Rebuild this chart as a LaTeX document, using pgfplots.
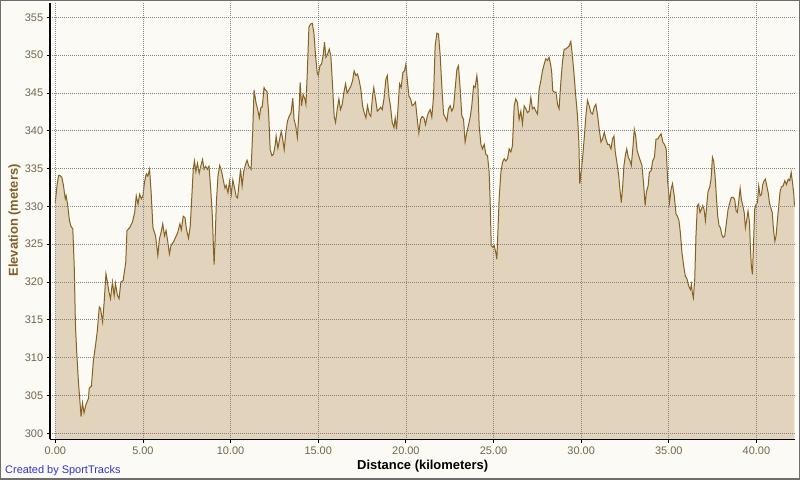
\documentclass[border=0pt]{standalone}
\usepackage{fontspec}
\setmainfont{Liberation Sans}
\usepackage{pgfplots}
\usepackage{pgfplotstable}
\pgfplotsset{compat=1.18}
\definecolor{bgc}{RGB}{252,250,245}
\definecolor{fillc}{RGB}{226,212,188}
\definecolor{linec}{RGB}{133,98,34}
\definecolor{gridc}{RGB}{135,130,125}
\definecolor{tickc}{RGB}{115,100,80}
\definecolor{ylabc}{RGB}{128,96,40}
\definecolor{bluec}{RGB}{51,51,204}
\definecolor{bordc}{RGB}{110,110,110}

\pgfplotstableread{
km elev
0.00 330.5
0.10 332.8
0.19 334.1
0.25 334.1
0.38 333.8
0.47 332.7
0.57 331.0
0.62 331.4
0.70 330.3
0.81 328.1
0.89 327.4
1.00 327.0
1.08 322.2
1.15 314.3
1.23 310.4
1.32 306.8
1.42 303.8
1.47 302.2
1.55 304.0
1.64 302.7
1.75 303.8
1.89 304.6
1.94 306.0
2.06 306.2
2.17 309.5
2.30 311.7
2.40 313.6
2.51 316.7
2.58 316.5
2.70 314.7
2.79 317.4
2.89 321.1
2.96 320.2
3.06 318.7
3.15 317.8
3.26 320.0
3.36 318.2
3.43 319.8
3.55 318.2
3.64 317.8
3.74 320.0
3.87 320.2
4.02 322.6
4.09 326.8
4.25 327.2
4.40 327.9
4.53 329.2
4.62 331.4
4.72 330.3
4.81 331.6
4.91 331.0
5.00 331.4
5.09 333.2
5.19 334.3
5.28 334.0
5.38 334.9
5.47 331.8
5.57 327.2
5.72 326.1
5.85 323.5
5.94 325.7
6.04 326.6
6.13 327.7
6.23 326.1
6.32 326.8
6.42 325.3
6.51 323.7
6.60 324.8
6.74 325.3
6.98 326.5
7.11 327.7
7.19 326.9
7.30 328.7
7.40 328.5
7.49 326.9
7.60 325.8
7.70 327.4
7.79 331.3
7.87 334.9
7.94 336.0
8.02 334.6
8.11 335.7
8.21 334.4
8.30 335.3
8.40 336.2
8.49 334.9
8.58 335.3
8.68 334.9
8.77 335.3
8.87 332.2
8.96 328.7
9.06 322.3
9.11 325.2
9.19 330.5
9.28 334.0
9.38 335.4
9.49 334.6
9.58 333.5
9.68 332.4
9.75 332.8
9.85 331.8
9.94 333.3
10.04 331.6
10.13 333.5
10.23 332.4
10.32 331.3
10.40 331.1
10.47 332.7
10.57 334.9
10.66 332.7
10.75 334.6
10.85 335.5
10.94 336.1
11.04 335.3
11.17 334.9
11.26 339.7
11.34 345.4
11.45 343.7
11.55 342.8
11.64 341.7
11.72 343.0
11.81 343.2
11.91 345.7
11.98 345.4
12.08 345.2
12.17 342.4
12.26 337.5
12.36 336.7
12.45 336.9
12.55 338.2
12.60 339.3
12.70 337.7
12.79 338.8
12.89 339.9
12.96 339.1
13.06 337.5
13.15 339.7
13.25 341.3
13.34 341.9
13.45 342.4
13.55 344.3
13.62 341.5
13.72 340.6
13.81 339.1
13.91 342.8
13.97 346.4
14.05 343.3
14.14 344.8
14.24 344.2
14.30 343.5
14.37 347.3
14.47 353.7
14.56 354.1
14.66 354.2
14.75 353.0
14.85 349.9
14.94 347.7
15.00 347.3
15.10 348.6
15.19 348.8
15.29 350.1
15.36 351.7
15.44 349.7
15.53 350.1
15.63 350.8
15.72 349.9
15.82 345.9
15.91 341.9
15.99 341.1
16.08 342.8
16.18 344.2
16.27 342.8
16.37 343.5
16.46 345.0
16.56 346.2
16.65 345.0
16.77 345.5
16.86 345.9
16.96 346.6
17.05 347.9
17.15 347.3
17.24 347.5
17.34 346.6
17.43 345.5
17.53 343.3
17.62 342.4
17.72 341.7
17.81 343.3
17.91 342.2
18.00 341.9
18.10 344.6
18.17 345.7
18.27 344.2
18.37 342.6
18.46 342.8
18.56 343.1
18.65 342.8
18.75 344.2
18.86 346.8
18.94 347.3
19.03 344.6
19.13 343.1
19.22 341.1
19.32 340.4
19.39 341.7
19.47 340.2
19.56 343.3
19.64 346.2
19.73 345.7
19.83 347.7
19.92 347.9
20.00 348.8
20.08 346.8
20.17 344.6
20.27 344.2
20.36 343.3
20.46 343.5
20.55 343.8
20.65 341.5
20.74 339.7
20.84 341.5
20.93 341.9
21.03 341.7
21.12 340.8
21.22 341.9
21.29 342.4
21.39 342.8
21.48 341.8
21.58 344.6
21.67 351.2
21.77 352.9
21.86 352.8
21.96 349.9
22.05 345.9
22.15 342.2
22.24 341.8
22.34 341.3
22.43 342.9
22.53 343.3
22.62 342.6
22.72 343.1
22.81 345.5
22.91 348.1
23.00 348.6
23.10 345.5
23.19 342.0
23.29 341.5
23.38 338.5
23.48 339.8
23.57 340.7
23.67 341.8
23.76 343.3
23.86 345.9
23.95 345.7
24.05 347.3
24.11 345.9
24.18 340.7
24.28 338.2
24.37 337.6
24.47 338.2
24.56 336.9
24.66 336.7
24.75 334.5
24.81 330.5
24.87 324.8
24.96 324.6
25.04 324.8
25.13 323.9
25.19 323.0
25.25 326.6
25.32 331.0
25.42 334.5
25.51 335.8
25.61 336.3
25.70 336.0
25.80 336.3
25.89 337.6
25.99 337.2
26.08 338.0
26.18 343.3
26.27 344.2
26.37 343.7
26.46 341.5
26.56 342.6
26.65 340.9
26.75 343.3
26.84 342.9
26.94 342.4
27.03 342.6
27.13 344.4
27.22 342.9
27.32 343.1
27.41 342.6
27.51 342.2
27.60 345.5
27.70 346.6
27.79 347.9
27.89 348.8
27.98 349.5
28.08 349.3
28.17 349.7
28.27 348.6
28.32 347.7
28.38 345.3
28.47 345.1
28.57 345.1
28.65 343.5
28.74 342.9
28.84 346.4
28.93 349.0
29.03 350.8
29.12 350.8
29.22 351.0
29.31 351.2
29.41 351.8
29.50 349.9
29.60 347.3
29.69 344.6
29.79 342.0
29.87 338.5
29.92 333.0
30.00 334.5
30.08 336.3
30.17 338.9
30.27 342.0
30.36 344.0
30.46 343.3
30.55 342.4
30.65 342.2
30.74 343.1
30.84 343.5
30.94 342.0
31.03 340.2
31.13 338.5
31.22 338.9
31.32 339.8
31.41 338.9
31.51 338.2
31.60 338.2
31.70 337.6
31.79 338.9
31.87 339.3
31.95 337.1
32.04 335.8
32.14 334.1
32.21 332.3
32.29 330.5
32.37 332.7
32.44 335.4
32.52 336.7
32.60 337.6
32.69 336.5
32.79 336.0
32.86 335.4
32.96 338.0
33.03 340.2
33.11 339.3
33.19 337.4
33.28 336.7
33.38 336.0
33.47 335.4
33.57 332.7
33.65 330.1
33.72 331.9
33.82 332.7
33.89 334.5
33.99 334.7
34.08 336.0
34.18 336.5
34.27 338.9
34.37 338.9
34.47 339.3
34.56 339.6
34.66 338.5
34.75 338.2
34.85 337.6
34.94 333.2
35.04 330.5
35.13 332.3
35.21 333.0
35.31 331.4
35.41 329.0
35.49 328.7
35.58 328.1
35.66 326.5
35.75 323.9
35.85 322.1
35.94 320.8
36.04 320.4
36.13 319.5
36.23 319.0
36.29 319.7
36.34 318.6
36.40 317.9
36.48 320.4
36.55 326.1
36.63 330.1
36.70 330.3
36.78 329.2
36.86 329.6
36.93 330.1
37.01 329.6
37.09 328.1
37.16 330.1
37.24 332.0
37.33 332.5
37.41 333.6
37.49 336.5
37.56 336.0
37.64 334.0
37.71 331.4
37.79 328.7
37.87 327.4
37.94 327.2
38.02 326.3
38.10 325.9
38.19 326.1
38.29 327.9
38.38 329.6
38.48 330.5
38.57 331.2
38.67 331.2
38.76 330.9
38.84 329.4
38.91 329.2
38.99 330.7
39.07 332.4
39.14 330.9
39.22 330.1
39.30 329.2
39.37 327.2
39.45 328.3
39.52 329.4
39.60 327.9
39.66 324.3
39.71 322.1
39.77 321.0
39.83 324.8
39.90 329.6
39.98 330.3
40.06 330.5
40.13 332.7
40.21 331.4
40.29 331.6
40.36 332.9
40.44 333.4
40.51 333.6
40.59 332.7
40.67 331.8
40.74 330.5
40.82 329.8
40.90 329.2
40.97 327.0
41.05 325.4
41.12 326.1
41.20 328.3
41.28 330.3
41.35 332.0
41.43 332.6
41.52 332.7
41.62 333.4
41.71 332.9
41.81 333.6
41.90 333.4
41.98 334.5
42.06 333.1
42.13 331.6
42.17 330.1
}\profile

\begin{document}
\begin{tikzpicture}[x=1bp,y=1bp]
\useasboundingbox (0,0) rectangle (800,480);
\fill[bgc] (0,0) rectangle (800,480);
\begin{axis}[
  at={(50.2bp,40.5bp)}, anchor=south west,
  scale only axis, width=744.8bp, height=436.5bp,
  xmin=-0.29, xmax=42.2, ymin=299.18, ymax=356.89,
  axis lines*=left,
  axis line style={black, line width=1.7bp},
  tick style={black, line width=0.8bp},
  tick align=outside, major tick length=3.5bp,
  xtick={0,5,...,40}, ytick={300,305,...,355},
  grid=major,
  major grid style={gridc, line width=0.7bp, dash pattern=on 0.9bp off 1.1bp},
  axis on top,
  /pgf/number format/assume math mode=true,
  tick label style={font=\fontsize{11}{13}\selectfont, text=tickc},
  xticklabel style={/pgf/number format/.cd, fixed, fixed zerofill, precision=2},
  yticklabel style={/pgf/number format/.cd, fixed, precision=0},
]
\addplot[fill=fillc, draw=none] table[x=km,y=elev]{\profile} \closedcycle;
\addplot[linec, line width=1bp] table[x=km,y=elev]{\profile};
\end{axis}
\node[font=\fontsize{13}{15}\selectfont\bfseries, anchor=base] at (422.7,10) {Distance (kilometers)};
\node[font=\fontsize{13}{15}\selectfont\bfseries, text=ylabc, rotate=90] at (14.5,259.5) {Elevation (meters)};
\node[font=\fontsize{11}{13}\selectfont, text=bluec, anchor=base west, inner sep=0] at (5,6) {Created by SportTracks};
\draw[bordc, line width=1.5bp] (0.75,0.75) rectangle (799.25,479.25);
\end{tikzpicture}
\end{document}
